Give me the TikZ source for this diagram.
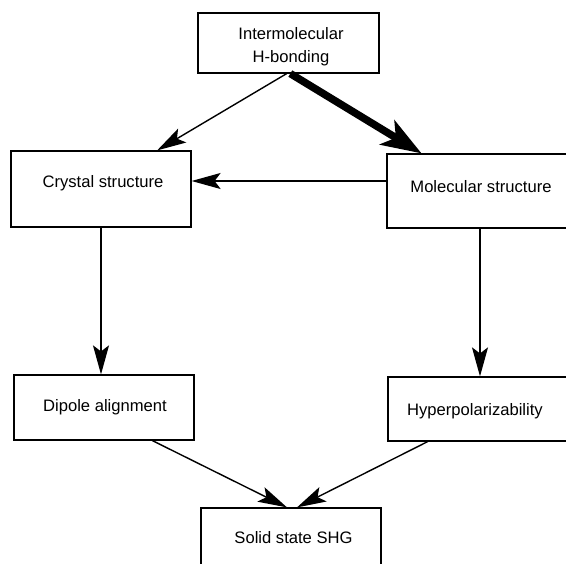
\documentclass[tikz,border=0pt]{standalone}
\usepackage{fontspec}
\setmainfont{Liberation Sans}
\usetikzlibrary{arrows.meta,calc}
\begin{document}
\begin{tikzpicture}[x=1pt,y=-1pt,
  box/.style={draw, line width=1.2pt, inner sep=0pt, fill=white},
  lbl/.style={inner sep=0pt, font=\fontsize{16.6}{23}\selectfont, align=center},
  conn/.style={line width=1.4pt, -{Stealth[length=29pt,width=16pt,inset=6pt]}},
  boldconn/.style={line width=7.5pt, -{Stealth[length=40pt,width=28pt,inset=10pt]}}]
\useasboundingbox (0,0) rectangle (566,564);
\clip (0,0) rectangle (566,564);
% boxes
\node[box, minimum width=181pt, minimum height=60pt] (top) at (288.5,43) {};
\node[box, minimum width=180pt, minimum height=76pt] (crystal) at (101,189) {};
\node[box, minimum width=188pt, minimum height=74pt] (molecular) at (481,191) {};
\node[box, minimum width=180pt, minimum height=65pt] (dipole) at (104,407.5) {};
\node[box, minimum width=188pt, minimum height=64pt] (hyper) at (482,409) {};
\node[box, minimum width=180pt, minimum height=60pt] (shg) at (291,538) {};
% texts
\node[lbl] (toptext) at (291,47) {Intermolecular\\H-bonding};
\node[lbl] (crystaltext) at (103,183) {Crystal structure};
\node[lbl] (moleculartext) at (481,187) {Molecular structure};
\node[lbl] (dipoletext) at (105,407) {Dipole alignment};
\node[lbl] (hypertext) at (475,411) {Hyperpolarizability};
\node[lbl] (shgtext) at (293.5,538) {Solid state SHG};
% connectors
\draw[conn] ($(top.south west)!0.49!(top.south east)$) -- ($(crystal.north west)!0.81!(crystal.north east)$);
\draw[boldconn] ($(top.south west)!0.51!(top.south east)$) -- ($(molecular.north west)!0.186!(molecular.north east)$);
\draw[conn] ([yshift=10pt]molecular.west) -- ([yshift=10pt]molecular.west -| crystal.east);
\draw[conn] (crystal.south) -- (crystal.south |- dipole.north);
\draw[conn] ([xshift=-1pt]molecular.south) -- ([xshift=-1pt]molecular.south |- hyper.north);
\draw[conn] ($(dipole.south west)!0.767!(dipole.south east)$) -- ($(shg.north west)!0.478!(shg.north east)$);
\draw[conn] ($(hyper.south west)!0.213!(hyper.south east)$) -- ($(shg.north west)!0.533!(shg.north east)$);
\end{tikzpicture}
\end{document}
